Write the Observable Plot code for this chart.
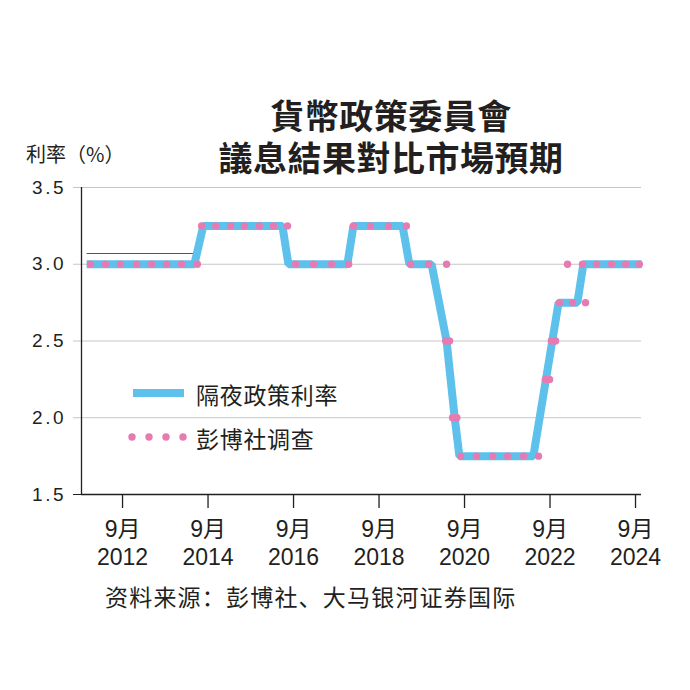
<!DOCTYPE html>
<html>
<head>
<meta charset="utf-8">
<script src="https://cdn.jsdelivr.net/npm/d3@7"></script>
<script src="https://cdn.jsdelivr.net/npm/@observablehq/plot@0.6"></script>
<style>
  body { margin: 0; background: #fff; }
  #wrap { position: relative; width: 690px; height: 690px; overflow: hidden; }
  #wrap > svg { position: absolute; left: 0; top: 0; }
  #overlay { pointer-events: none; }
  g[aria-label="y-axis tick label"] text { letter-spacing: 2.5px; }
  #title {
    position: absolute; left: 91px; top: 94.2px; width: 600px;
    text-align: center; color: #231f20;
    font-family: 'Noto Sans CJK TC', 'Noto Sans CJK SC', sans-serif;
    font-size: 34px; font-weight: 700; line-height: 42px; letter-spacing: 0.5px;
    white-space: nowrap;
  }
  #title div { height: 42px; overflow: visible; }
</style>
</head>
<body>
<div id="wrap"></div>
<script>
// ---- Data ----
// Overnight Policy Rate (OPR) line vertices: decimal year, rate (%)
const rateDates  = [2011.83, 2014.35, 2014.56, 2016.41, 2016.55, 2017.93, 2018.07, 2019.22, 2019.38, 2019.90, 2020.25, 2020.44, 2020.55, 2022.28, 2022.87, 2023.31, 2023.45, 2024.81];
const rateValues = [3.00,    3.00,    3.25,    3.25,    3.00,    3.00,    3.25,    3.25,    3.00,    3.00,    2.50,    2.00,    1.75,    1.75,    2.75,    2.75,    3.00,    3.00];

// Bloomberg survey expectations: decimal year, rate (%)
const surveyDates  = [
  2011.92, 2012.27, 2012.62, 2013.00, 2013.35, 2013.70, 2014.05, 2014.42,
  2014.52, 2014.85, 2015.20, 2015.52, 2015.87, 2016.20, 2016.53,
  2016.72, 2017.14, 2017.56, 2017.96,
  2018.07, 2018.47, 2018.89, 2019.31,
  2019.41, 2019.83, 2020.25,
  2020.23, 2020.32,
  2020.39, 2020.49,
  2020.58, 2020.95, 2021.33, 2021.68, 2022.05, 2022.40,
  2022.56, 2022.66,
  2022.70, 2022.80,
  2022.89, 2023.20, 2023.50,
  2023.08, 2023.43, 2023.76, 2024.11, 2024.44, 2024.76
];
const surveyValues = [
  3.00, 3.00, 3.00, 3.00, 3.00, 3.00, 3.00, 3.00,
  3.25, 3.25, 3.25, 3.25, 3.25, 3.25, 3.25,
  3.00, 3.00, 3.00, 3.00,
  3.25, 3.25, 3.25, 3.25,
  3.00, 3.00, 3.00,
  2.50, 2.50,
  2.00, 2.00,
  1.75, 1.75, 1.75, 1.75, 1.75, 1.75,
  2.25, 2.25,
  2.50, 2.50,
  2.75, 2.75, 2.75,
  3.00, 3.00, 3.00, 3.00, 3.00, 3.00
];

// thin reference stroke visible in the picture
const refFrom = [2011.84];
const refTo = [2014.35];
const refValue = [3.07];

const tickDates = [2012.67, 2014.67, 2016.67, 2018.67, 2020.67, 2022.67, 2024.67];
const tickYears = ["2012", "2014", "2016", "2018", "2020", "2022", "2024"];
const tickMonth = "9月";
const yTicks = [1.5, 2.0, 2.5, 3.0, 3.5];
const xDomain = [2011.71, 2024.81];
const yDomain = [1.5, 3.5];

const titleLines = ["貨幣政策委員會", "議息結果對比市場預期"];
const yLabel = "利率（%）";
const legendLabels = ["隔夜政策利率", "彭博社调查"];
const sourceText = "资料来源：彭博社、大马银河证券国际";

// ---- Build tables ----
const rateData = rateDates.map((d, i) => ({date: d, rate: rateValues[i]}));
const surveyData = surveyDates.map((d, i) => ({date: d, rate: surveyValues[i]}));
const refData = refFrom.map((d, i) => ({from: d, to: refTo[i], value: refValue[i]}));

const BLUE = "#5ec1ec";
const PINK = "#e77bb1";
const INK = "#231f20";
const LATIN = "'Liberation Sans', Arial, 'Noto Sans CJK SC', sans-serif";

const chart = Plot.plot({
  width: 690,
  height: 690,
  marginTop: 187,
  marginBottom: 196,
  marginLeft: 81,
  marginRight: 49,
  style: {background: "transparent", color: INK, fontFamily: LATIN},
  x: {domain: xDomain},
  y: {domain: yDomain},
  marks: [
    Plot.gridY([2.0, 2.5, 3.0, 3.5], {stroke: "#c6c6c6", strokeOpacity: 1, strokeWidth: 1}),
    Plot.axisY(yTicks, {
      tickSize: 8, tickPadding: 7.5, stroke: "#c6c6c6", fill: INK,
      fontSize: 19, tickFormat: d => d.toFixed(1), label: null
    }),
    Plot.axisY([1.5], {tickSize: 8, stroke: INK, tickFormat: () => "", label: null}),
    Plot.ruleX([xDomain[0]], {stroke: INK, strokeWidth: 1.3}),
    Plot.ruleY([yDomain[0]], {stroke: INK, strokeWidth: 1.3}),
    Plot.axisX(tickDates, {
      tickSize: 14, tickPadding: 9, stroke: INK, fill: INK, strokeWidth: 1.3,
      fontSize: 23, lineHeight: 1.2, label: null,
      tickFormat: d => tickMonth + "\n" + tickYears[tickDates.indexOf(d)]
    }),
    Plot.ruleY(refData, {y: "value", x1: "from", x2: "to", stroke: "#555", strokeWidth: 1}),
    Plot.line(rateData, {x: "date", y: "rate", stroke: BLUE, strokeWidth: 8, strokeLinejoin: "miter", strokeLinecap: "butt"}),
    Plot.dot(surveyData, {x: "date", y: "rate", r: 3.7, fill: PINK, stroke: "none"})
  ]
});

const wrap = document.getElementById("wrap");
wrap.appendChild(chart);

// ---- Title (HTML) ----
const titleDiv = document.createElement("div");
titleDiv.id = "title";
titleLines.forEach(line => {
  const d = document.createElement("div");
  d.textContent = line;
  titleDiv.appendChild(d);
});
wrap.appendChild(titleDiv);

// ---- Axis label, legend, source (overlay text) ----
const ns = "http://www.w3.org/2000/svg";
const ov = document.createElementNS(ns, "svg");
ov.setAttribute("id", "overlay");
ov.setAttribute("width", 690);
ov.setAttribute("height", 690);
function txt(s, x, y, opts) {
  const t = document.createElementNS(ns, "text");
  t.textContent = s;
  t.setAttribute("x", x);
  t.setAttribute("y", y);
  t.setAttribute("fill", INK);
  t.setAttribute("font-family", opts.family || "'Noto Sans CJK SC', sans-serif");
  t.setAttribute("font-size", opts.size);
  if (opts.weight) t.setAttribute("font-weight", opts.weight);
  if (opts.anchor) t.setAttribute("text-anchor", opts.anchor);
  if (opts.ls) t.setAttribute("letter-spacing", opts.ls);
  ov.appendChild(t);
  return t;
}
txt(yLabel, 26, 162, {size: 20});

// legend swatches
const sw = document.createElementNS(ns, "rect");
sw.setAttribute("x", 133); sw.setAttribute("y", 389); sw.setAttribute("width", 51); sw.setAttribute("height", 8);
sw.setAttribute("fill", BLUE);
ov.appendChild(sw);
[132, 149, 166, 183].forEach(cx => {
  const c = document.createElementNS(ns, "circle");
  c.setAttribute("cx", cx); c.setAttribute("cy", 437); c.setAttribute("r", 3.7);
  c.setAttribute("fill", PINK);
  ov.appendChild(c);
});
txt(legendLabels[0], 196, 404, {size: 23, ls: 0.7});
txt(legendLabels[1], 196, 448, {size: 23, ls: 0.7});

txt(sourceText, 105, 606, {size: 23, ls: 1.2});
wrap.appendChild(ov);
</script>
</body>
</html>
